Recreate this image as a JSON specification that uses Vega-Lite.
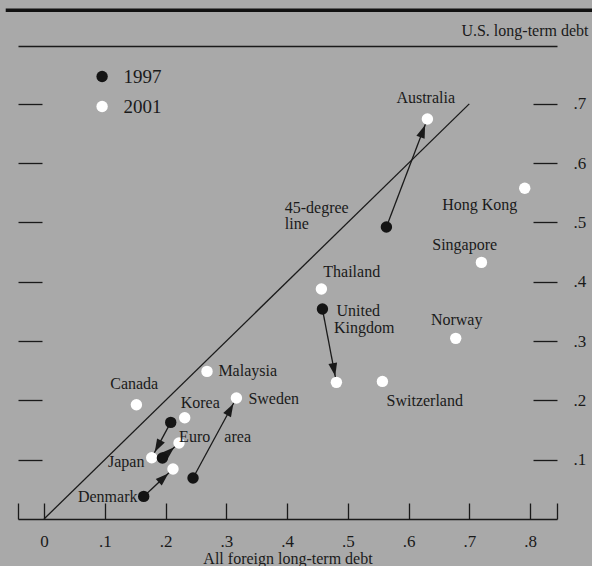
{
  "$schema": "https://vega.github.io/schema/vega-lite/v6.json",
  "width": 539,
  "height": 473,
  "autosize": "none",
  "padding": {"left": 18, "top": 46, "right": 35, "bottom": 47},
  "background": "#a9a9a9",
  "config": {"view": {"stroke": null}, "font": "Liberation Serif", "axis": {"grid": false}},
  "datasets": {
    "frame": [{"part": "top border", "x": -0.063, "x2": 0.902, "y": 0.858}],
    "diag": [{"x": 0, "y": 0, "x2": 0.7, "y2": 0.7}],
    "points": [
      {"country": "Australia", "year": "1997", "x": 0.5636, "y": 0.4924},
      {"country": "Australia", "year": "2001", "x": 0.6311, "y": 0.6745},
      {"country": "Hong Kong", "year": "2001", "x": 0.7913, "y": 0.5578},
      {"country": "Singapore", "year": "2001", "x": 0.720, "y": 0.4327},
      {"country": "Thailand", "year": "2001", "x": 0.4566, "y": 0.3879},
      {"country": "United Kingdom", "year": "1997", "x": 0.4583, "y": 0.3541},
      {"country": "United Kingdom", "year": "2001", "x": 0.4813, "y": 0.2304},
      {"country": "Norway", "year": "2001", "x": 0.6777, "y": 0.3046},
      {"country": "Switzerland", "year": "2001", "x": 0.557, "y": 0.232},
      {"country": "Malaysia", "year": "2001", "x": 0.2683, "y": 0.2489},
      {"country": "Sweden", "year": "1997", "x": 0.2453, "y": 0.0691},
      {"country": "Sweden", "year": "2001", "x": 0.3167, "y": 0.204},
      {"country": "Canada", "year": "2001", "x": 0.1521, "y": 0.1927},
      {"country": "Korea", "year": "2001", "x": 0.2316, "y": 0.1708},
      {"country": "Japan", "year": "1997", "x": 0.2086, "y": 0.1629},
      {"country": "Japan", "year": "2001", "x": 0.1773, "y": 0.1034},
      {"country": "Euro area", "year": "1997", "x": 0.1949, "y": 0.1029},
      {"country": "Euro area", "year": "2001", "x": 0.2222, "y": 0.1282},
      {"country": "Denmark", "year": "1997", "x": 0.1641, "y": 0.0381},
      {"country": "Denmark", "year": "2001", "x": 0.2123, "y": 0.0843}
    ],
    "arrows": [
      {"country": "Australia", "x97": 0.5636, "y97": 0.4924, "x01": 0.6311, "y01": 0.6745},
      {"country": "United Kingdom", "x97": 0.4583, "y97": 0.3541, "x01": 0.4813, "y01": 0.2304},
      {"country": "Sweden", "x97": 0.2453, "y97": 0.0691, "x01": 0.3167, "y01": 0.204},
      {"country": "Japan", "x97": 0.2086, "y97": 0.1629, "x01": 0.1773, "y01": 0.1034},
      {"country": "Euro area", "x97": 0.1949, "y97": 0.1029, "x01": 0.2222, "y01": 0.1282},
      {"country": "Denmark", "x97": 0.1641, "y97": 0.0381, "x01": 0.2123, "y01": 0.0843}
    ],
    "labels": [
      {"label": "Australia", "x": 0.6283, "y": 0.7105},
      {"label": "45-degree", "x": 0.4489, "y": 0.525},
      {"label": "line", "x": 0.416, "y": 0.498},
      {"label": "Hong Kong", "x": 0.7172, "y": 0.53},
      {"label": "Singapore", "x": 0.6925, "y": 0.4626},
      {"label": "Thailand", "x": 0.5065, "y": 0.417},
      {"label": "United", "x": 0.5172, "y": 0.3513},
      {"label": "Kingdom", "x": 0.5271, "y": 0.3226},
      {"label": "Norway", "x": 0.6793, "y": 0.3361},
      {"label": "Switzerland", "x": 0.6267, "y": 0.1995},
      {"label": "Malaysia", "x": 0.3353, "y": 0.2501},
      {"label": "Sweden", "x": 0.3781, "y": 0.2029},
      {"label": "Canada", "x": 0.1485, "y": 0.2282},
      {"label": "Korea", "x": 0.2571, "y": 0.1961},
      {"label": "Euro", "x": 0.248, "y": 0.1388},
      {"label": "area", "x": 0.3188, "y": 0.1388},
      {"label": "Japan", "x": 0.1353, "y": 0.0967},
      {"label": "Denmark", "x": 0.1049, "y": 0.0376}
    ]
  },
  "layer": [
    {
      "data": {"name": "diag"},
      "mark": {"type": "rule", "color": "#1a1a1a", "strokeWidth": 1.3},
      "encoding": {
        "x": {"field": "x", "type": "quantitative",
          "scale": {"domain": [-0.0428, 0.8444], "nice": false, "zero": false},
          "axis": {"orient": "bottom", "values": [-0.0428, 0, 0.1, 0.2, 0.3, 0.4, 0.5, 0.6, 0.7, 0.8, 0.8444],
            "tickSize": -16, "tickWidth": 1.3, "tickColor": "#1a1a1a",
            "domainColor": "#1a1a1a", "domainWidth": 1.5,
            "labelExpr": "datum.value == 0 ? '0' : ((datum.value < 0 || datum.value > 0.81) ? '' : replace(format(datum.value, '.1f'), '0.', '.'))",
            "labelFont": "Liberation Serif", "labelFontSize": 17, "labelColor": "#1a1a1a",
            "labelPadding": 30, "labelFlush": false, "labelOverlap": false,
            "title": "All foreign long-term debt", "titleFont": "Liberation Serif", "titleFontSize": 16,
            "titleFontWeight": "normal", "titleColor": "#1a1a1a", "titleBaseline": "alphabetic", "titleY": 44}},
        "y": {"field": "y", "type": "quantitative",
          "scale": {"domain": [0, 0.7976], "nice": false, "zero": false},
          "axis": {"orient": "right", "values": [0.1, 0.2, 0.3, 0.4, 0.5, 0.6, 0.7],
            "tickSize": -24, "tickWidth": 1.3, "tickColor": "#1a1a1a", "domain": false,
            "labelExpr": "replace(format(datum.value, '.1f'), '0.', '.')",
            "labelFont": "Liberation Serif", "labelFontSize": 17, "labelColor": "#1a1a1a",
            "labelPadding": 40, "labelAlign": "left", "labelBaseline": "middle",
            "title": "U.S. long-term debt", "titleFont": "Liberation Serif", "titleFontSize": 16,
            "titleFontWeight": "normal", "titleColor": "#1a1a1a", "titleAngle": 0,
            "titleAlign": "right", "titleBaseline": "alphabetic", "titleX": 31, "titleY": -11}},
        "x2": {"field": "x2"},
        "y2": {"field": "y2"}
      }
    },
    {
      "data": {"name": "frame"},
      "mark": {"type": "rule", "color": "#111111", "strokeWidth": 3.5},
      "encoding": {
        "x": {"field": "x", "type": "quantitative",
          "scale": {"domain": [-0.0428, 0.8444], "nice": false, "zero": false},
          "axis": {"orient": "top", "domain": true, "domainColor": "#1a1a1a", "domainWidth": 1.5,
            "ticks": false, "labels": false, "title": null}},
        "x2": {"field": "x2"},
        "y": {"field": "y", "type": "quantitative",
          "scale": {"domain": [0, 0.7976], "nice": false, "zero": false},
          "axis": {"orient": "left", "values": [0.1, 0.2, 0.3, 0.4, 0.5, 0.6, 0.7],
            "tickSize": -24, "tickWidth": 1.3, "tickColor": "#1a1a1a", "domain": false,
            "labels": false, "title": null}}
      }
    },
    {
      "data": {"name": "arrows"},
      "mark": {"type": "rule", "color": "#1a1a1a", "strokeWidth": 1.3},
      "encoding": {
        "x": {"field": "x97", "type": "quantitative", "scale": {"domain": [-0.0428, 0.8444], "nice": false, "zero": false}, "axis": null},
        "y": {"field": "y97", "type": "quantitative", "scale": {"domain": [0, 0.7976], "nice": false, "zero": false}, "axis": null},
        "x2": {"field": "x01"},
        "y2": {"field": "y01"}
      }
    },
    {
      "data": {"name": "arrows"},
      "transform": [
        {"calculate": "atan2((datum.x01 - datum.x97) * 607.5, (datum.y01 - datum.y97) * 593) * 180 / PI", "as": "heading"}
      ],
      "mark": {"type": "point", "shape": "M0,0.64L0.44,1.95L-0.44,1.95Z", "filled": true, "color": "#1a1a1a", "opacity": 1, "size": 400, "strokeWidth": 0},
      "encoding": {
        "x": {"field": "x01", "type": "quantitative", "scale": {"domain": [-0.0428, 0.8444], "nice": false, "zero": false}, "axis": null},
        "y": {"field": "y01", "type": "quantitative", "scale": {"domain": [0, 0.7976], "nice": false, "zero": false}, "axis": null},
        "angle": {"field": "heading", "type": "quantitative", "scale": null}
      }
    },
    {
      "data": {"name": "points"},
      "mark": {"type": "point", "filled": true, "opacity": 1, "size": 130, "shape": "circle", "strokeWidth": 0},
      "encoding": {
        "x": {"field": "x", "type": "quantitative", "scale": {"domain": [-0.0428, 0.8444], "nice": false, "zero": false}, "axis": null},
        "y": {"field": "y", "type": "quantitative", "scale": {"domain": [0, 0.7976], "nice": false, "zero": false}, "axis": null},
        "color": {"field": "year", "type": "nominal",
          "scale": {"domain": ["1997", "2001"], "range": ["#141414", "#ffffff"]},
          "legend": {"orient": "none", "legendX": 74.6, "legendY": 21, "title": null,
            "symbolType": "circle", "symbolSize": 130, "symbolStrokeWidth": 0, "symbolOpacity": 1,
            "labelFont": "Liberation Serif", "labelFontSize": 19, "labelColor": "#1a1a1a",
            "rowPadding": 10, "labelOffset": 12, "padding": 0}}
      }
    },
    {
      "data": {"name": "labels"},
      "mark": {"type": "text", "align": "center", "baseline": "middle", "font": "Liberation Serif", "fontSize": 16, "color": "#1a1a1a"},
      "encoding": {
        "x": {"field": "x", "type": "quantitative", "scale": {"domain": [-0.0428, 0.8444], "nice": false, "zero": false}, "axis": null},
        "y": {"field": "y", "type": "quantitative", "scale": {"domain": [0, 0.7976], "nice": false, "zero": false}, "axis": null},
        "text": {"field": "label"}
      }
    }
  ],
  "resolve": {"axis": {"x": "independent", "y": "independent"}}
}
